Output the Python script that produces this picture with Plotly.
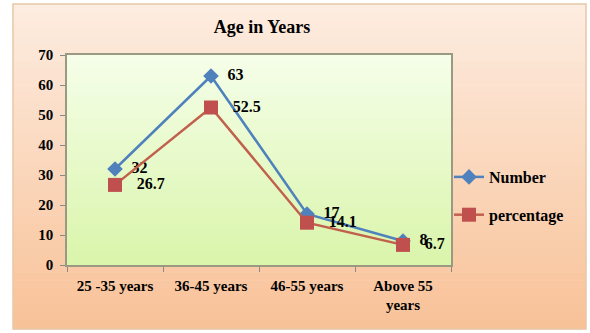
import plotly.graph_objects as go

categories = ["25 -35 years", "36-45 years", "46-55 years", "Above 55<br>years"]
number = [32, 63, 17, 8]
percentage = [26.7, 52.5, 14.1, 6.7]
number_labels = ["32", "63", "17", "8"]
percentage_labels = ["26.7", "52.5", "14.1", "6.7"]

W, H = 590, 333
L, R, T, B = 67, 139, 55, 68
pw, ph = W - L - R, H - T - B

def px2x(px):
    return (px - L) / pw

def py2y(py):
    return (H - B - py) / ph

def lerp(c1, c2, t):
    return "rgb(%d,%d,%d)" % tuple(round(a + (b - a) * t) for a, b in zip(c1, c2))

shapes = []
# outer chart area gradient
ox0, ox1, oy0, oy1 = 13, 586, 4, 329
n = 40
for i in range(n):
    t = i / (n - 1)
    ya = oy0 + (oy1 - oy0) * i / n
    yb = oy0 + (oy1 - oy0) * (i + 1) / n + 0.6
    shapes.append(dict(type="rect", xref="paper", yref="paper", layer="below",
                       x0=px2x(ox0), x1=px2x(ox1), y0=py2y(yb), y1=py2y(ya),
                       fillcolor=lerp((253, 236, 224), (248, 194, 152), t), line_width=0))
shapes.append(dict(type="rect", xref="paper", yref="paper", layer="below",
                   x0=px2x(ox0), x1=px2x(ox1), y0=py2y(oy1), y1=py2y(oy0),
                   fillcolor="rgba(0,0,0,0)", line=dict(color="#E8C8A8", width=1.5)))
# plot area gradient
m = 30
for i in range(m):
    t = i / (m - 1)
    shapes.append(dict(type="rect", xref="paper", yref="paper", layer="below",
                       x0=0, x1=1, y0=1 - (i + 1) / m - 0.003, y1=1 - i / m,
                       fillcolor=lerp((245, 254, 232), (218, 245, 172), t), line_width=0))

label_font = dict(family="Liberation Serif", size=16, color="black")

fig = go.Figure()
fig.add_trace(go.Scatter(
    x=categories, y=number, name="<b>Number</b>", mode="lines+markers+text",
    text=number_labels, texttemplate="  <b>%{text}</b>", textposition="middle right",
    textfont=label_font,
    line=dict(color="#4F81BD", width=2.5),
    marker=dict(symbol="diamond", size=12, color="#4F81BD"),
    legendgroup="a",
))
fig.add_trace(go.Scatter(
    x=categories, y=percentage, name="<b>percentage</b>", mode="lines+markers+text",
    text=percentage_labels, texttemplate="   <b>%{text}</b>", textposition="middle right",
    textfont=label_font,
    line=dict(color="#C0604D", width=2.5),
    marker=dict(symbol="square", size=14, color="#C0504D"),
    legendgroup="b",
))

fig.update_layout(
    width=W, height=H,
    margin=dict(l=L, r=R, t=T, b=B, pad=0),
    paper_bgcolor="white", plot_bgcolor="rgba(0,0,0,0)",
    shapes=shapes,
    font=dict(family="Liberation Serif", size=15, color="black"),
    title=dict(text="<b>Age in Years</b>", x=px2x(262), xref="paper", xanchor="center",
               y=1 - 27 / H, yref="container", yanchor="middle",
               font=dict(family="Liberation Serif", size=18, color="black")),
    legend=dict(x=px2x(449), xanchor="left", y=py2y(160), yanchor="top",
                bgcolor="rgba(0,0,0,0)", tracegroupgap=14,
                font=dict(family="Liberation Serif", size=16, color="black"),
                itemwidth=30),
    showlegend=True,
)
fig.update_xaxes(range=[-0.5, 3.5], showgrid=False, showline=True, mirror=True,
                 linecolor="#9A9A82", linewidth=1.5, ticks="outside", tickson="boundaries",
                 ticklen=5, tickcolor="#888", ticklabelstandoff=6,
                 tickfont=dict(family="Liberation Serif", size=15),
                 tickprefix="<b>", ticksuffix="</b>")
fig.update_yaxes(range=[0, 70], dtick=10, showgrid=False, showline=True, mirror=True,
                 linecolor="#9A9A82", linewidth=1.5, ticks="outside", ticklen=5,
                 tickcolor="#888", zeroline=False, ticklabelstandoff=4,
                 tickfont=dict(family="Liberation Serif", size=15),
                 tickprefix="<b>", ticksuffix="</b>")

fig.write_html("out.html")
